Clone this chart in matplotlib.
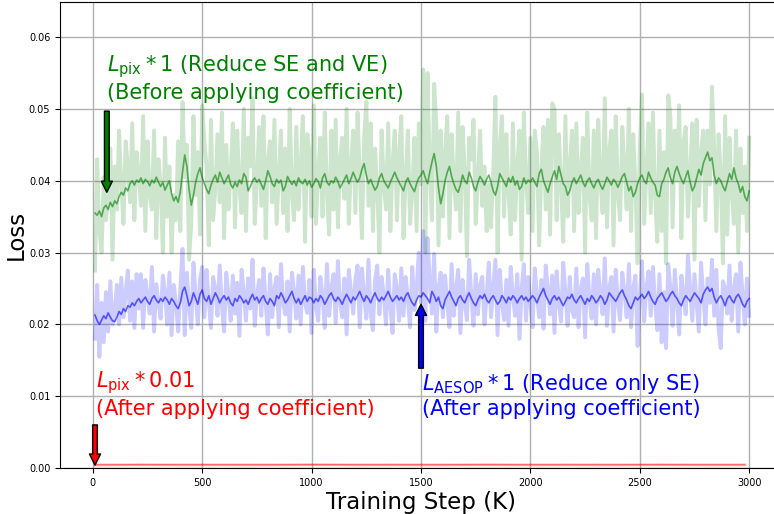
import numpy as np
import matplotlib
matplotlib.use("Agg")
import matplotlib.pyplot as plt

# loss values are written in units of 1e-4
UNIT = 1e-4

steps = np.arange(10, 3001, 10)        # 300 logged steps (K)
red_steps = np.arange(10, 3001, 198)   # 16 points

green_raw = [
    275, 430, 330, 300, 405, 345, 380, 445, 290, 420,
    360, 470, 395, 340, 455, 420, 370, 480, 345, 440,
    410, 365, 490, 330, 455, 380, 360, 470, 320, 430,
    395, 300, 460, 350, 420, 300, 380, 345, 455, 330,
    510, 405, 450, 290, 340, 490, 380, 440, 325, 505,
    455, 420, 310, 485, 345, 390, 465, 370, 495, 320,
    450, 360, 410, 480, 335, 470, 390, 355, 500, 330,
    460, 420, 515, 340, 400, 475, 365, 490, 320, 430,
    455, 370, 485, 340, 405, 470, 355, 445, 330, 500,
    380, 345, 475, 360, 420, 490, 315, 465, 440, 350,
    505, 340, 410, 460, 350, 495, 385, 325, 470, 360,
    485, 335, 430, 460, 375, 500, 340, 420, 470, 355,
    495, 410, 320, 460, 510, 365, 480, 330, 445, 390,
    300, 470, 395, 360, 480, 330, 425, 470, 345, 440,
    490, 320, 405, 470, 340, 385, 460, 330, 480, 395,
    555, 300, 550, 410, 345, 535, 480, 310, 470, 350,
    440, 490, 320, 465, 400, 360, 495, 330, 475, 415,
    295, 460, 430, 485, 340, 400, 470, 365, 420, 330,
    395, 335, 410, 517, 300, 450, 490, 350, 465, 385,
    325, 480, 345, 420, 470, 290, 495, 400, 355, 460,
    330, 470, 440, 310, 415, 475, 360, 485, 325, 508,
    500, 345, 465, 395, 315, 490, 350, 420, 470, 330,
    480, 355, 415, 460, 300, 495, 380, 345, 470, 320,
    485, 400, 355, 515, 335, 440, 470, 310, 490, 380,
    345, 475, 420, 360, 500, 330, 465, 395, 285, 445,
    520, 340, 410, 480, 355, 495, 380, 315, 470, 330,
    440, 285, 519, 490, 335, 470, 400, 505, 320, 455,
    475, 350, 410, 480, 290, 485, 365, 440, 470, 345,
    470, 395, 531, 445, 330, 465, 410, 285, 490, 325,
    460, 385, 340, 470, 300, 445, 355, 420, 330, 460,
]

green_smooth = [
    355, 352, 358, 350, 362, 366, 360, 370, 364, 372,
    368, 378, 384, 380, 390, 386, 396, 400, 394, 401,
    398, 404, 396, 402, 399, 393, 401, 397, 405, 398,
    392, 398, 387, 394, 400, 382, 372, 378, 370, 385,
    412, 436, 420, 388, 366, 380, 398, 410, 418, 404,
    396, 388, 382, 394, 402, 408, 398, 412, 404, 396,
    402, 408, 395, 390, 398, 392, 401, 396, 410, 405,
    386, 392, 400, 404, 398, 402, 395, 388, 400, 414,
    406, 396, 392, 402, 397, 401, 386, 392, 406, 400,
    395, 400, 393, 404, 398, 396, 402, 394, 400, 391,
    396, 403, 399, 390, 404, 410, 398, 394, 400, 397,
    405, 399, 390, 396, 402, 408, 396, 403, 412, 404,
    398, 404, 416, 424, 408, 396, 402, 394, 387, 392,
    404, 410, 400, 395, 390, 398, 405, 412, 404, 398,
    392, 386, 398, 404, 396, 390, 385, 396, 404, 408,
    414, 404, 396, 412, 426, 438, 420, 390, 368, 382,
    400, 412, 420, 406, 396, 388, 384, 394, 408, 400,
    396, 412, 404, 392, 386, 398, 406, 401, 394, 402,
    408, 398, 386, 380, 392, 410, 404, 398, 392, 404,
    398, 406, 394, 400, 388, 392, 404, 396, 401, 398,
    404, 398, 392, 410, 416, 400, 392, 384, 396, 405,
    414, 402, 420, 408, 396, 392, 380, 386, 398, 404,
    396, 402, 408, 398, 392, 400, 404, 396, 390, 398,
    402, 394, 388, 396, 405, 400, 394, 402, 398, 391,
    398, 406, 410, 398, 386, 392, 378, 384, 396, 404,
    408, 400, 396, 412, 404, 398, 394, 380, 378, 396,
    402, 412, 418, 404, 396, 412, 420, 410, 402, 396,
    406, 414, 398, 386, 392, 404, 416, 408, 424, 432,
    440, 428, 432, 408, 396, 404, 400, 392, 386, 398,
    410, 402, 418, 404, 396, 384, 392, 378, 372, 386,
]

blue_raw = [
    180, 255, 155, 230, 175, 245, 190, 260, 200, 215,
    255, 200, 265, 210, 245, 275, 205, 260, 195, 270,
    222, 270, 195, 262, 240, 215, 280, 190, 256, 230,
    208, 268, 245, 200, 272, 185, 255, 230, 190, 250,
    305, 185, 272, 225, 195, 286, 240, 200, 262, 280,
    210, 276, 230, 195, 266, 250, 212, 282, 225, 190,
    272, 240, 205, 268, 215, 258, 184, 276, 245, 205,
    264, 222, 290, 198, 240, 262, 212, 278, 230, 186,
    270, 210, 250, 266, 196, 284, 230, 214, 260, 190,
    272, 245, 208, 268, 200, 280, 230, 216, 262, 188,
    276, 225, 205, 266, 240, 195, 284, 212, 250, 270,
    202, 288, 230, 210, 264, 186, 276, 245, 215, 262,
    282, 196, 278, 240, 208, 290, 215, 192, 262, 282,
    214, 266, 240, 200, 276, 225, 188, 270, 250, 205,
    278, 212, 266, 235, 196, 280, 220, 250, 300, 230,
    330, 205, 320, 260, 215, 298, 190, 250, 272, 210,
    268, 230, 196, 284, 212, 250, 276, 188, 262, 230,
    206, 290, 240, 198, 270, 214, 255, 266, 200, 240,
    286, 210, 250, 290, 185, 276, 230, 206, 262, 198,
    280, 240, 212, 270, 180, 250, 284, 205, 266, 230,
    196, 278, 240, 210, 262, 194, 282, 250, 214, 268,
    188, 274, 230, 204, 286, 245, 198, 266, 220, 210,
    278, 196, 250, 264, 182, 284, 235, 208, 270, 200,
    276, 240, 214, 292, 198, 250, 266, 190, 276, 230,
    206, 272, 245, 210, 284, 196, 250, 268, 170, 240,
    288, 204, 250, 274, 212, 280, 230, 192, 270, 175,
    245, 167, 284, 250, 198, 276, 230, 186, 268, 240,
    214, 296, 250, 205, 270, 230, 190, 286, 240, 200,
    264, 230, 290, 212, 276, 195, 167, 260, 250, 215,
    282, 205, 250, 270, 190, 286, 240, 200, 264, 212,
]

blue_smooth = [
    213, 205, 200, 206, 212, 208, 216, 210, 205, 204,
    210, 218, 214, 222, 218, 226, 224, 230, 226, 232,
    236, 230, 234, 238, 232, 228, 236, 240, 234, 230,
    236, 232, 238, 234, 228, 236, 232, 226, 222, 230,
    246, 252, 240, 226, 232, 244, 236, 228, 242, 248,
    236, 232, 240, 228, 236, 244, 238, 230, 236, 240,
    234, 238, 230, 226, 236, 232, 240, 236, 230, 234,
    228, 236, 242, 234, 238, 230, 236, 240, 232, 228,
    236, 232, 226, 240, 236, 244, 238, 230, 234, 240,
    246, 236, 230, 236, 228, 234, 240, 232, 238, 236,
    230, 236, 232, 240, 236, 228, 234, 240, 244, 236,
    232, 238, 234, 228, 236, 242, 236, 230, 238, 234,
    240, 246, 238, 232, 240, 236, 230, 238, 244, 236,
    232, 238, 234, 240, 246, 238, 232, 236, 240, 234,
    238, 232, 240, 244, 236, 230, 226, 234, 240, 238,
    244, 240, 236, 230, 246, 240, 232, 238, 226, 222,
    234, 240, 246, 238, 232, 226, 236, 240, 234, 230,
    238, 244, 236, 230, 226, 234, 240, 236, 242, 234,
    230, 236, 240, 234, 228, 232, 240, 236, 230, 238,
    234, 240, 236, 230, 236, 240, 234, 238, 232, 236,
    240, 236, 230, 238, 244, 250, 240, 234, 228, 236,
    240, 234, 238, 232, 226, 232, 238, 236, 242, 234,
    230, 236, 240, 234, 228, 236, 232, 240, 236, 230,
    234, 240, 236, 228, 234, 244, 240, 236, 232, 238,
    244, 248, 240, 234, 226, 222, 230, 238, 234, 238,
    242, 236, 240, 246, 238, 232, 228, 236, 240, 244,
    238, 232, 236, 242, 246, 240, 236, 230, 226, 234,
    240, 236, 232, 238, 244, 240, 236, 230, 242, 248,
    252, 246, 250, 238, 230, 236, 240, 234, 226, 236,
    240, 234, 230, 238, 242, 236, 228, 224, 232, 236,
]

red_raw = [4.3, 4.7, 4.5, 4.6, 4.4, 4.8, 4.5, 4.6, 4.4, 4.7, 4.5, 4.6, 4.4, 4.7, 4.5, 4.6]
red_smooth = [4.4, 4.6, 4.5, 4.5, 4.5, 4.6, 4.5, 4.5, 4.5, 4.6, 4.5, 4.5, 4.5, 4.6, 4.5, 4.5]

x_ticks = [0, 500, 1000, 1500, 2000, 2500, 3000]
y_ticks = [0.00, 0.01, 0.02, 0.03, 0.04, 0.05, 0.06]

fig = plt.figure(figsize=(7.74, 5.14), dpi=100)
ax = fig.add_axes([60 / 774, 46 / 514, 722 / 774, 466 / 514])

def arr(v):
    return np.array(v) * UNIT

ax.plot(steps, arr(green_raw), color="green", alpha=0.2, lw=2.8)
ax.plot(steps, arr(green_smooth), color="green", alpha=0.6, lw=1.2)
ax.plot(steps, arr(blue_raw), color="blue", alpha=0.2, lw=2.8)
ax.plot(steps, arr(blue_smooth), color="blue", alpha=0.6, lw=1.2)
ax.plot(red_steps, arr(red_raw), color="red", alpha=0.2, lw=2.2)
ax.plot(red_steps, arr(red_smooth), color="red", alpha=0.5, lw=1.0)

ax.set_xlim(-150, 3150)
ax.set_ylim(0, 0.0649)
ax.set_xticks(x_ticks)
ax.set_yticks(y_ticks)
ax.set_yticklabels(["%.2f" % t for t in y_ticks])
ax.tick_params(labelsize=7)
ax.grid(True, color="#b0b0b0", lw=1)
ax.set_axisbelow(True)
ax.set_xlabel("Training Step (K)", fontsize=16.5, labelpad=2)
ax.set_ylabel("Loss", fontsize=16.5)
ax.yaxis.set_label_coords(-0.044, 0.5)

# annotations
txt = dict(fontsize=15, ha="left", va="top")
ax.text(64, 0.0578, "$L_{\\rm pix} * 1$ (Reduce SE and VE)\n(Before applying coefficient)",
        color="green", **txt)
ax.text(14, 0.0138, "$L_{\\rm pix} * 0.01$\n(After applying coefficient)",
        color="red", **txt)
ax.text(1504, 0.0134, "$L_{\\rm AESOP} * 1$ (Reduce only SE)\n(After applying coefficient)",
        color="blue", **txt)

arw = dict(edgecolor="black", width=3.4, headwidth=8, headlength=8, shrink=0)
ax.annotate("", xy=(64, 0.0384), xytext=(64, 0.0497), arrowprops=dict(facecolor="green", **arw))
ax.annotate("", xy=(10, 0.0004), xytext=(10, 0.0060), arrowprops=dict(facecolor="red", **arw))
ax.annotate("", xy=(1500, 0.0228), xytext=(1500, 0.0139), arrowprops=dict(facecolor="blue", **arw))

fig.savefig("out.png", dpi=100)
